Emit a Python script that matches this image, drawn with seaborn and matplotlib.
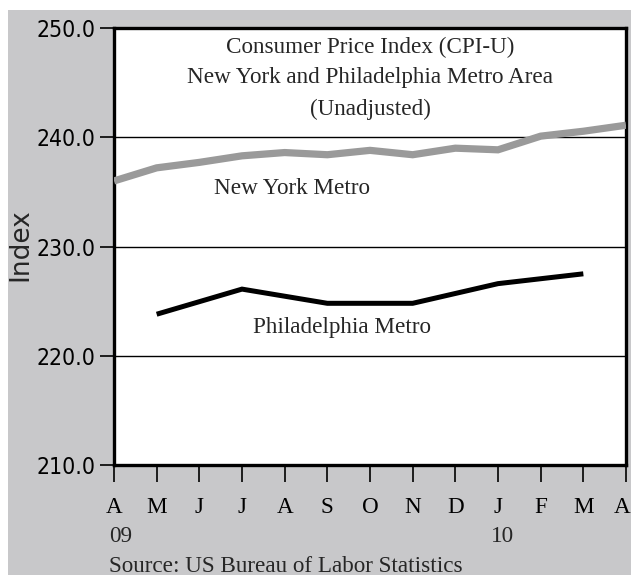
import matplotlib
matplotlib.use("Agg")
import matplotlib.pyplot as plt
import matplotlib.transforms as mtransforms
from matplotlib.patches import Rectangle
from matplotlib import font_manager as fm
import seaborn as sns
import pandas as pd

months = ["A", "M", "J", "J", "A", "S", "O", "N", "D", "J", "F", "M", "A"]
ny_values = [236.0, 237.2, 237.7, 238.3, 238.6, 238.4, 238.8, 238.4, 239.0, 238.85, 240.1, 240.55, 241.1]
phila_months_idx = [1, 3, 5, 7, 9, 11]
phila_values = [223.8, 226.1, 224.8, 224.8, 226.6, 227.5]
yticks = [210.0, 220.0, 230.0, 240.0, 250.0]

sns.set_style("white")


def pick_narrow():
    best = None
    for f in fm.fontManager.ttflist:
        name = f.name.lower()
        style_ok = f.style == "normal" and (f.weight in (400, "normal", "regular"))
        if not style_ok:
            continue
        if "liberation sans narrow" in name:
            return fm.FontProperties(fname=f.fname), True
        if ("narrow" in name or "condensed" in name or f.stretch in ("condensed", "semi-condensed")
                or "condensed" in str(f.fname).lower()) and "sans" in name:
            if "mono" in name or "bold" in str(f.fname).lower() or "oblique" in str(f.fname).lower():
                continue
            if best is None:
                best = f
    if best is not None:
        return fm.FontProperties(fname=best.fname), False
    return None, False


narrow, is_lib_narrow = pick_narrow()

fig = plt.figure(figsize=(6.31, 5.75), dpi=100)
fig.patch.set_facecolor("white")
W, H = 631, 575
fig.patches.append(Rectangle((8 / W, 0), (W - 8) / W, (H - 10) / H,
                             transform=fig.transFigure, facecolor="#c8c8ca",
                             edgecolor="none", zorder=-10))

ax = fig.add_axes([114 / W, 1 - 465 / H, 512 / W, 437 / H])
ax.set_facecolor("white")

ny_df = pd.DataFrame({"x": list(range(len(months))), "y": ny_values})
ph_df = pd.DataFrame({"x": phila_months_idx, "y": phila_values})

for y in yticks[1:-1]:
    ax.axhline(y, color="black", lw=1.0, zorder=1)

sns.lineplot(data=ny_df, x="x", y="y", ax=ax, color="#9a9a9a", lw=5.2,
             solid_capstyle="butt", solid_joinstyle="miter", zorder=3)
sns.lineplot(data=ph_df, x="x", y="y", ax=ax, color="black", lw=3.6,
             solid_capstyle="butt", solid_joinstyle="miter", zorder=3)

ax.set_xlim(0, 12)
ax.set_ylim(210, 250)
ax.set_yticks(yticks)
ylabels = ax.set_yticklabels([f"{v:.1f}" for v in yticks])
for t in ylabels:
    if narrow is not None:
        t.set_fontproperties(narrow)
        t.set_fontsize(18.5 if is_lib_narrow else 16.5)
    else:
        t.set_fontfamily("Liberation Sans")
        t.set_fontsize(15)
ax.set_xticks(range(len(months)))
xlabels = ax.set_xticklabels(months, fontfamily="Liberation Serif", fontsize=16.7)
ax.tick_params(axis="y", left=True, direction="out", length=10, width=1.2, pad=3.6, colors="black")
ax.tick_params(axis="x", bottom=True, direction="out", length=12.2, width=1.2, pad=10.5, colors="black")
# keep the last month label inside the figure edge
last = ax.get_xticklabels()[-1]
last.set_transform(last.get_transform() + mtransforms.ScaledTranslation(-4 / 100, 0, fig.dpi_scale_trans))

ax.set_xlabel("")
ax.set_ylabel("Index", fontfamily="DejaVu Sans", fontsize=19)
ax.yaxis.set_label_coords((33 - 114) / 512, 0.505)

for s in ax.spines.values():
    s.set_visible(True)
    s.set_color("black")
    s.set_linewidth(2.4)

title_lines = ["Consumer Price Index (CPI-U)",
               "New York and Philadelphia Metro Area",
               "(Unadjusted)"]
for i, t in enumerate(title_lines):
    ax.text(0.5, 1 - (47 + 31 * i - 28) / 437, t, transform=ax.transAxes,
            ha="center", va="center", fontfamily="Liberation Serif", fontsize=16.7)

ax.text(4.18, 235.3, "New York Metro", ha="center", va="center",
        fontfamily="Liberation Serif", fontsize=16.7)
ax.text(5.34, 222.6, "Philadelphia Metro", ha="center", va="center",
        fontfamily="Liberation Serif", fontsize=16.7)

fig.text(109 / W, 1 - 536 / H, "09", ha="left", va="center",
         fontfamily="Liberation Serif", fontsize=16.7)
fig.text(491 / W, 1 - 536 / H, "10", ha="left", va="center",
         fontfamily="Liberation Serif", fontsize=16.7)
fig.text(109 / W, 1 - 566 / H, "Source: US Bureau of Labor Statistics", ha="left",
         va="center", fontfamily="Liberation Serif", fontsize=16.7)

fig.savefig("out.png", dpi=100, facecolor=fig.get_facecolor())
